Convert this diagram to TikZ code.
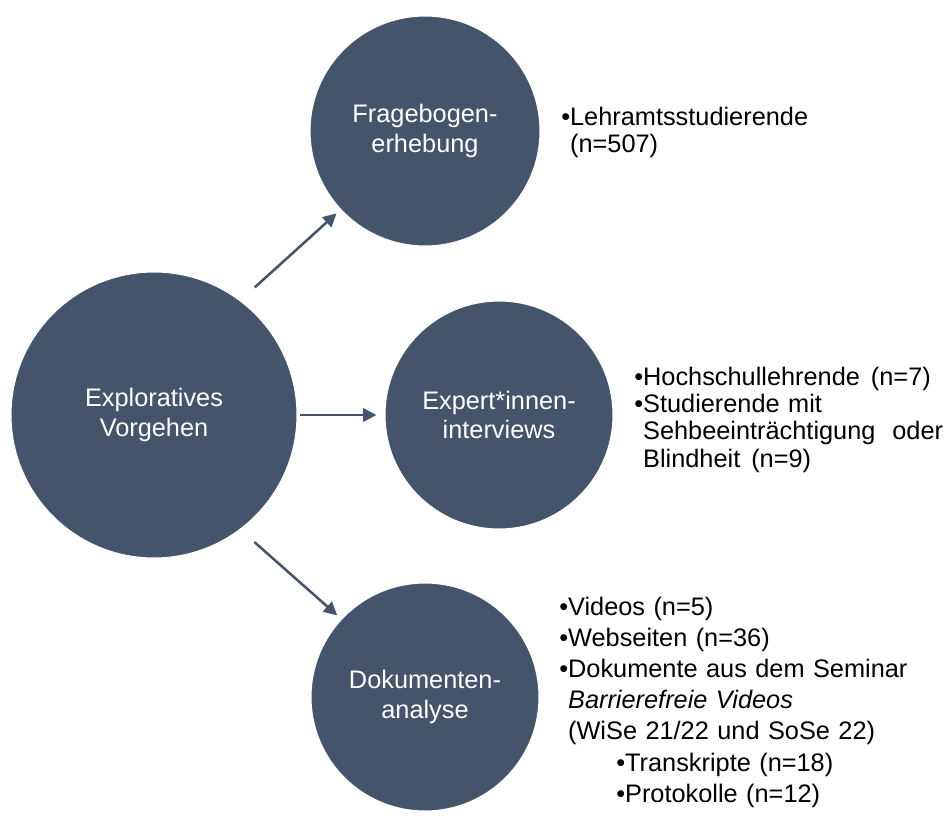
\documentclass[tikz,border=0pt]{standalone}
\usepackage{fontspec}
\setmainfont{Liberation Sans}
\usetikzlibrary{arrows.meta}
\definecolor{slate}{HTML}{44546A}
\newcommand{\bul}{\textbullet}
\newcommand{\ind}{\phantom{\textbullet}}

\begin{document}
\begin{tikzpicture}[x=0.75pt, y=-0.75pt, >={Triangle[length=10pt,width=10pt]},
  bubble/.style={circle, fill=slate, draw=white, line width=0.8pt, text=white, align=center, inner sep=0pt, font=\fontsize{19pt}{22pt}\selectfont},
  info/.style={anchor=base west, inner sep=0pt, text width=300pt, align=left, font=\fontsize{19pt}{20.5pt}\selectfont},
  link/.style={->, draw=slate, line width=1.9pt}]
\useasboundingbox (0,0) rectangle (946,815);

% method circles
\node[bubble, minimum size=286*0.75pt] (expl) at (154,415) {Exploratives\\Vorgehen};
\node[bubble, minimum size=230*0.75pt] (frage) at (425,131) {Fragebogen-\\erhebung};
\node[bubble, minimum size=228*0.75pt] (inter) at (499,415) {Expert*innen-\\interviews};
\node[bubble, minimum size=228*0.75pt] (doku) at (425,697) {Dokumenten-\\analyse};

% samples
\node[info] (frageinfo) at (561,125) {\bul Lehramtsstudierende\\
  \ind(n=507)};
\node[info] (interinfo) at (634,385) {\bul Hochschullehrende\hspace{0.1em} (n=7)\\
  \bul Studierende mit\\
  \ind\makebox[225pt][l]{Sehbeeinträchtigung\hfill oder}\\
  \ind Blindheit\hspace{0.1em} (n=9)};
\node[info, font=\fontsize{19pt}{23.4pt}\selectfont] (dokuinfo) at (559,615) {\bul Videos (n=5)\\
  \bul Webseiten (n=36)\\
  \bul Dokumente aus dem Seminar\\
  \ind\textit{Barrierefreie Videos}\\
  \ind(WiSe 21/22 und SoSe 22)\\
  \hspace*{42.75pt}\bul Transkripte (n=18)\\
  \hspace*{42.75pt}\bul Protokolle (n=12)};

\draw[link, shorten <=14.5pt, shorten >=4pt] (expl.53) -- (frage.223);
\draw[link, shorten <=1.5pt, shorten >=6pt] (expl.east) -- (inter.west);
\draw[link, shorten <=14pt, shorten >=4pt] (expl.307) -- (doku.137);
\end{tikzpicture}
\end{document}
